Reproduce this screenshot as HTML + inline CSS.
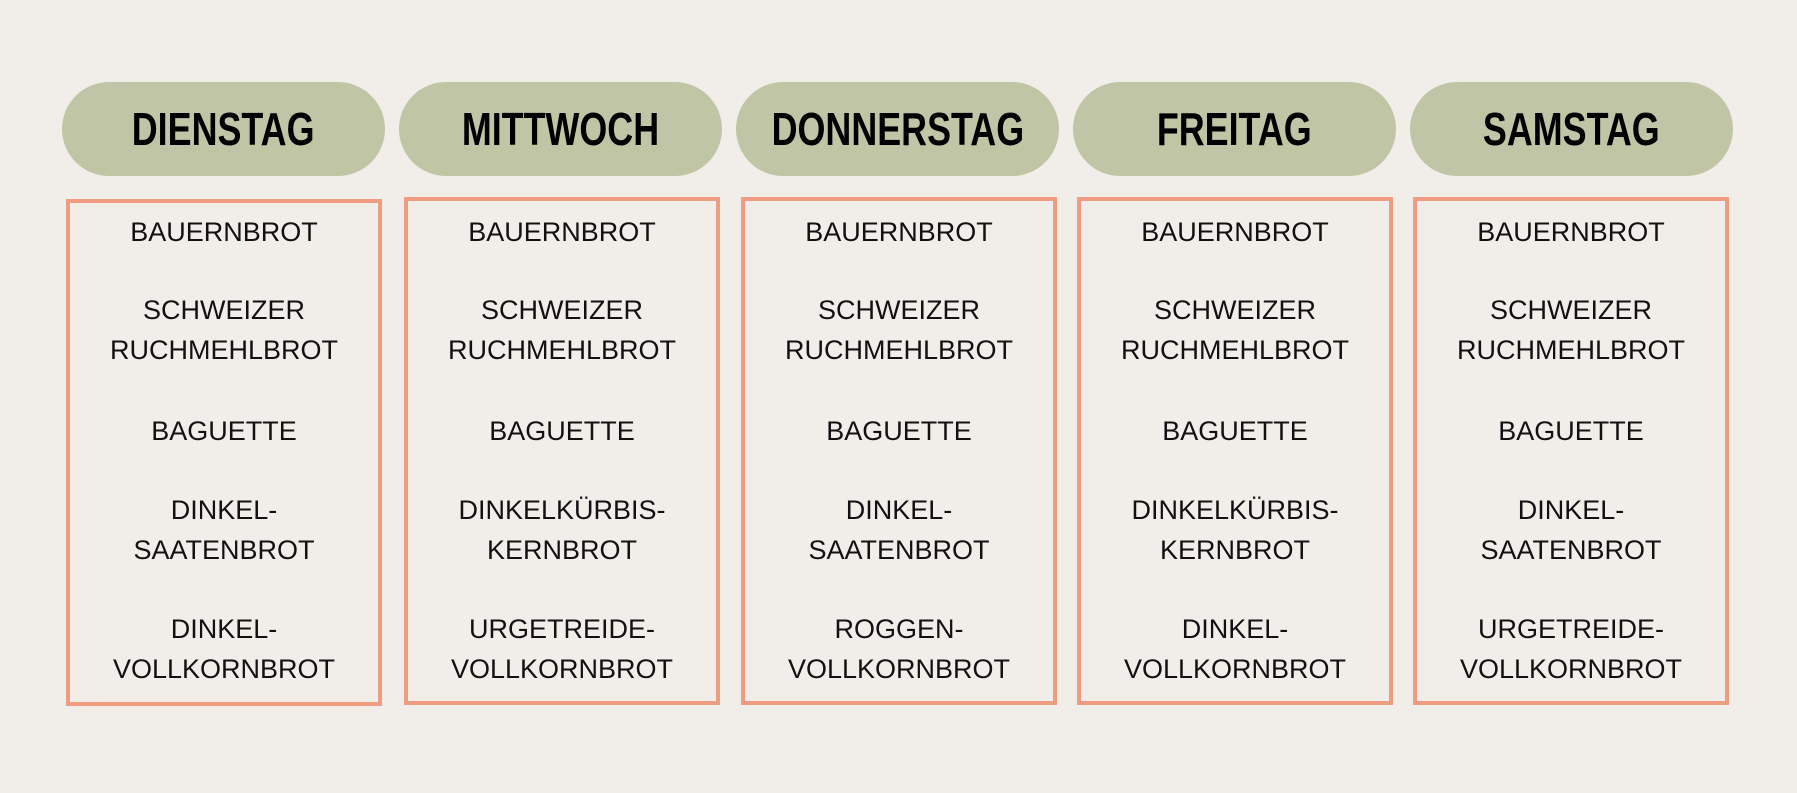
<!DOCTYPE html>
<html><head><meta charset="utf-8"><style>
html,body{margin:0;padding:0}
body{width:1797px;height:793px;background:#f1eee9;position:relative;overflow:hidden;font-family:"Liberation Sans",sans-serif}
.pill{position:absolute;top:82px;width:323px;height:94px;border-radius:47px;background:#c0c5a6;display:flex;align-items:center;justify-content:center}
.pill span{font-weight:bold;font-size:46px;color:#000;transform:scaleX(0.78);display:inline-block;letter-spacing:0px}
.box{position:absolute;top:199px;width:308px;height:500px;border:4px solid #f09c80}
.t{position:absolute;left:0;width:100%;text-align:center;font-size:27px;color:#111;line-height:40px}
</style></head><body>
<div class="pill" style="left:62px"><span>DIENSTAG</span></div>
<div class="pill" style="left:399px"><span>MITTWOCH</span></div>
<div class="pill" style="left:736px"><span>DONNERSTAG</span></div>
<div class="pill" style="left:1073px"><span>FREITAG</span></div>
<div class="pill" style="left:1410px"><span>SAMSTAG</span></div>

<div class="box" style="left:66px;height:499px">
<div class="t" style="top:9px">BAUERNBROT</div>
<div class="t" style="top:87px">SCHWEIZER</div>
<div class="t" style="top:127px">RUCHMEHLBROT</div>
<div class="t" style="top:208px">BAGUETTE</div>
<div class="t" style="top:287px">DINKEL-</div>
<div class="t" style="top:327px">SAATENBROT</div>
<div class="t" style="top:406px">DINKEL-</div>
<div class="t" style="top:446px">VOLLKORNBROT</div>
</div>
<div class="box" style="left:404px;top:197px">
<div class="t" style="top:11px">BAUERNBROT</div>
<div class="t" style="top:89px">SCHWEIZER</div>
<div class="t" style="top:129px">RUCHMEHLBROT</div>
<div class="t" style="top:210px">BAGUETTE</div>
<div class="t" style="top:289px">DINKELKÜRBIS-</div>
<div class="t" style="top:329px">KERNBROT</div>
<div class="t" style="top:408px">URGETREIDE-</div>
<div class="t" style="top:448px">VOLLKORNBROT</div>
</div>
<div class="box" style="left:741px;top:197px">
<div class="t" style="top:11px">BAUERNBROT</div>
<div class="t" style="top:89px">SCHWEIZER</div>
<div class="t" style="top:129px">RUCHMEHLBROT</div>
<div class="t" style="top:210px">BAGUETTE</div>
<div class="t" style="top:289px">DINKEL-</div>
<div class="t" style="top:329px">SAATENBROT</div>
<div class="t" style="top:408px">ROGGEN-</div>
<div class="t" style="top:448px">VOLLKORNBROT</div>
</div>
<div class="box" style="left:1077px;top:197px">
<div class="t" style="top:11px">BAUERNBROT</div>
<div class="t" style="top:89px">SCHWEIZER</div>
<div class="t" style="top:129px">RUCHMEHLBROT</div>
<div class="t" style="top:210px">BAGUETTE</div>
<div class="t" style="top:289px">DINKELKÜRBIS-</div>
<div class="t" style="top:329px">KERNBROT</div>
<div class="t" style="top:408px">DINKEL-</div>
<div class="t" style="top:448px">VOLLKORNBROT</div>
</div>
<div class="box" style="left:1413px;top:197px">
<div class="t" style="top:11px">BAUERNBROT</div>
<div class="t" style="top:89px">SCHWEIZER</div>
<div class="t" style="top:129px">RUCHMEHLBROT</div>
<div class="t" style="top:210px">BAGUETTE</div>
<div class="t" style="top:289px">DINKEL-</div>
<div class="t" style="top:329px">SAATENBROT</div>
<div class="t" style="top:408px">URGETREIDE-</div>
<div class="t" style="top:448px">VOLLKORNBROT</div>
</div>
</body></html>
